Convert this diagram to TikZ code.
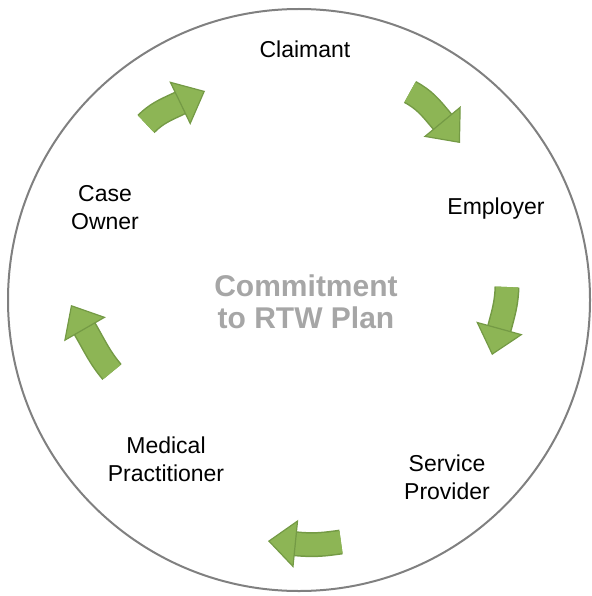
\documentclass[tikz,border=0pt]{standalone}
\usepackage{fontspec}
\setmainfont{Liberation Sans}
\usetikzlibrary{arrows.meta,positioning}
\definecolor{leaf}{HTML}{8DB555}
\definecolor{leafdark}{HTML}{749A45}
\definecolor{rimgray}{HTML}{808080}
\definecolor{plangray}{HTML}{A6A6A6}

\begin{document}
\begin{tikzpicture}[
              x=1pt, y=1pt,
              every node/.style={font=\fontsize{23}{28}\selectfont, align=center, inner sep=0pt},
              rim/.style={draw=rimgray, line width=2pt},
              turn/.style={draw=leaf, line width=22pt,
                -{Triangle[length=28pt, width=48pt, color=leafdark, fill=leaf, line width=1.2pt]},
                preaction={draw=leafdark, line width=25pt, -, shorten >=26pt}},
              goal/.style={font=\bfseries\fontsize{30}{32}\selectfont, text=plangray}
            ]
            \useasboundingbox (0,0) rectangle (591,-596);

            % Outer ring
            \draw[rim] (299,-300) circle (291);

            % Plan in the middle
            \node[goal] (plan) at (306,-302) {Commitment\\to RTW Plan};

            % Parties round the ring
            \node (claimant) at (305,-49) {Claimant};
            \node (employer) at (496,-209) {Employer};
            \node (provider) at (447,-477) {Service\\Provider};
            \node (medical)  at (166,-459) {Medical\\Practitioner};
            \node (owner)    at (105,-208) {Case\\Owner};

            % Tail, bend and tip of each turning arrow
            \coordinate (t1) at (146,-124); \coordinate (m1) at (178,-104); \coordinate (h1) at (205,-91);
            \coordinate (t2) at (410,-92);  \coordinate (m2) at (441,-120); \coordinate (h2) at (460,-143);
            \coordinate (t3) at (507,-287); \coordinate (m3) at (500,-326); \coordinate (h3) at (492,-355);
            \coordinate (t4) at (341,-542); \coordinate (m4) at (298,-544); \coordinate (h4) at (268,-541);
            \coordinate (t5) at (112,-372); \coordinate (m5) at (86,-331);  \coordinate (h5) at (71,-305);

            % Clockwise arrows, straight under the head
            \draw[turn] (t1) to[out=45, in=205] (m1) -- (h1);
            \draw[turn] (t2) to[out=-28, in=130] (m2) -- (h2);
            \draw[turn] (t3) to[out=-92, in=75] (m3) -- (h3);
            \draw[turn] (t4) to[out=188, in=-5] (m4) -- (h4);
            \draw[turn] (t5) to[out=130, in=-60] (m5) -- (h5);

            \end{tikzpicture}
\end{document}
